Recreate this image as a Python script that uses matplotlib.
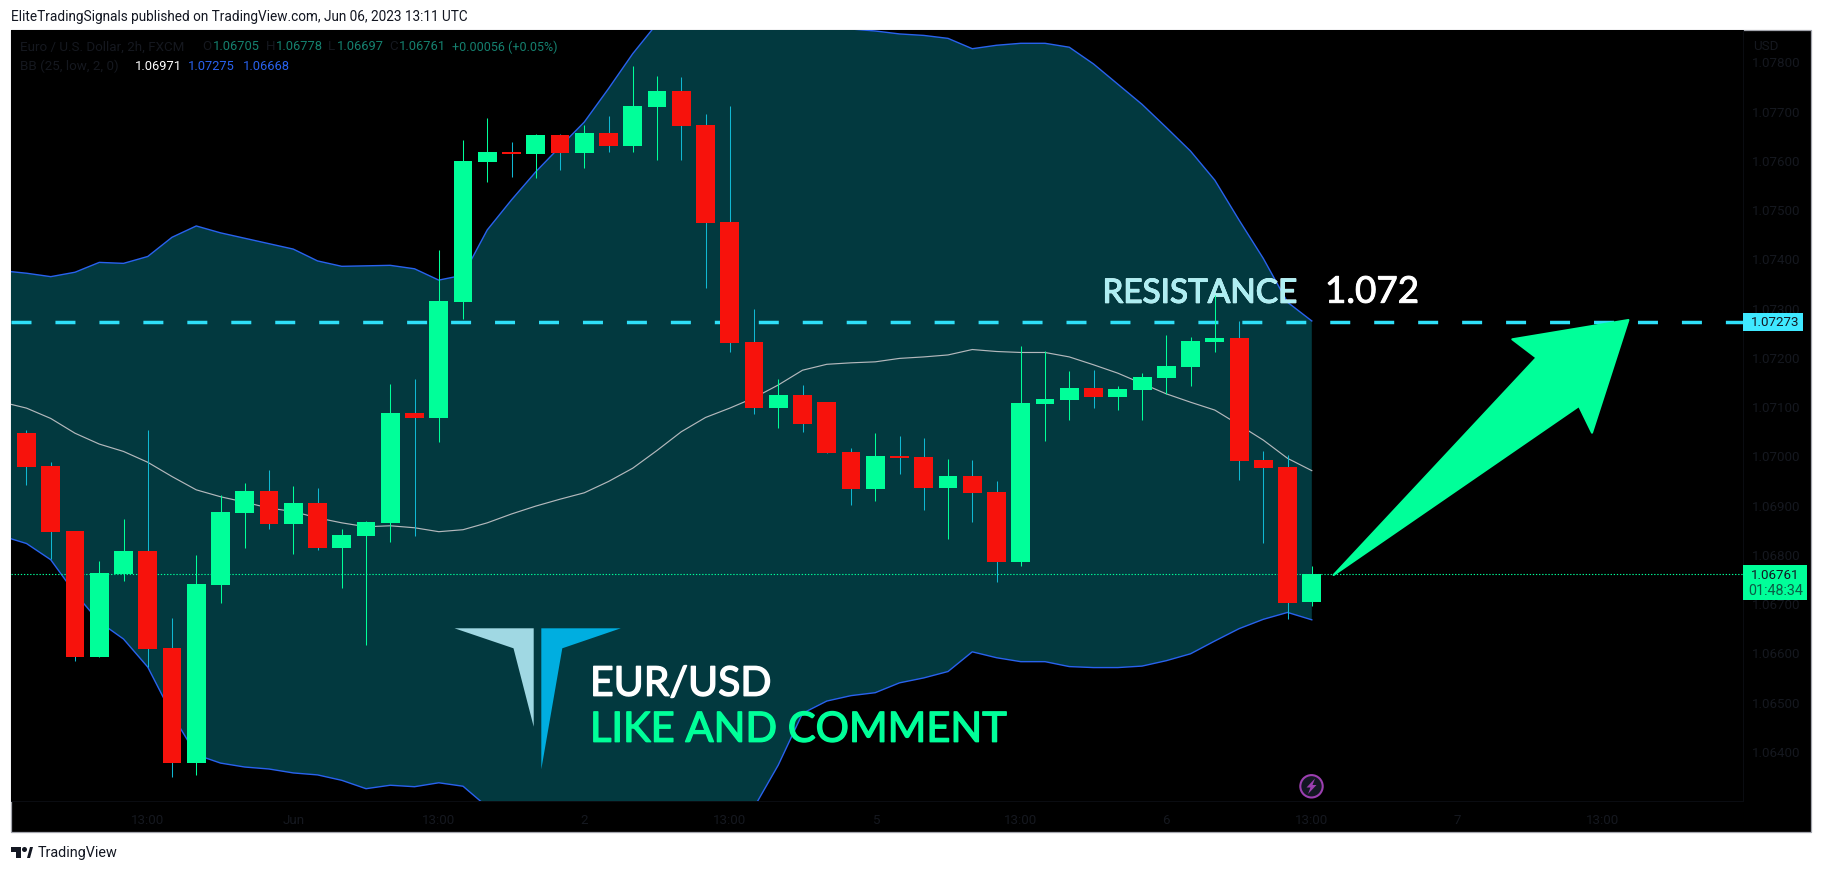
import matplotlib
matplotlib.use("Agg")
import matplotlib.pyplot as plt
import matplotlib.patheffects as pe
from matplotlib.patches import Polygon, Rectangle, Circle
from matplotlib.transforms import Affine2D

W, H = 1822, 872

opens = [1.07048,1.06980,1.06849,1.06593,1.06761,1.06808,1.06611,1.06378,1.06739,1.06885,
         1.06930,1.06863,1.06905,1.06814,1.06838,1.06865,1.07088,1.07078,1.07313,1.07598,
         1.07618,1.07614,1.07652,1.07616,1.07656,1.07630,1.07709,1.07742,1.07673,1.07476,
         1.07232,1.07098,1.07125,1.07110,1.07009,1.06934,1.07001,1.06999,1.06936,1.06960,
         1.06928,1.06786,1.07106,1.07115,1.07139,1.07121,1.07135,1.07159,1.07182,1.07232,
         1.07240,1.06993,1.06978,1.06705]
closes = [1.06978,1.06847,1.06593,1.06763,1.06808,1.06609,1.06378,1.06741,1.06887,1.06930,
          1.06863,1.06905,1.06814,1.06840,1.06867,1.07088,1.07078,1.07315,1.07600,1.07618,
          1.07614,1.07652,1.07616,1.07656,1.07630,1.07711,1.07742,1.07671,1.07474,1.07230,
          1.07098,1.07125,1.07066,1.07007,1.06934,1.07001,1.06997,1.06936,1.06960,1.06926,
          1.06786,1.07108,1.07117,1.07139,1.07121,1.07137,1.07161,1.07184,1.07234,1.07240,
          1.06991,1.06976,1.06702,1.06761]
highs = [1.07054,1.06988,1.06849,1.06788,1.06873,1.07054,1.06672,1.06800,1.06922,1.06946,
         1.06972,1.06940,1.06936,1.06853,1.06869,1.07147,1.07157,1.07419,1.07642,1.07687,
         1.07638,1.07654,1.07654,1.07673,1.07691,1.07792,1.07772,1.07770,1.07695,1.07711,
         1.07299,1.07157,1.07145,1.07110,1.07017,1.07048,1.07041,1.07037,1.06995,1.06993,
         1.06950,1.07224,1.07214,1.07173,1.07175,1.07143,1.07169,1.07246,1.07242,1.07328,
         1.07275,1.07011,1.07003,1.06778]
lows = [1.06942,1.06791,1.06585,1.06593,1.06747,1.06572,1.06349,1.06353,1.06702,1.06814,
        1.06853,1.06802,1.06810,1.06733,1.06617,1.06826,1.06838,1.07029,1.07279,1.07557,
        1.07567,1.07565,1.07581,1.07585,1.07618,1.07618,1.07602,1.07602,1.07342,1.07212,
        1.07086,1.07058,1.07050,1.07007,1.06901,1.06910,1.06964,1.06891,1.06832,1.06867,
        1.06745,1.06778,1.07031,1.07074,1.07098,1.07094,1.07074,1.07127,1.07143,1.07212,
        1.06952,1.06824,1.06670,1.06697]

# Bollinger bands start one bar before the first candle
bb_upper = [1.07377,1.07372,1.07365,1.07374,1.07394,1.07392,1.07406,1.07445,1.07468,1.07454,
            1.07443,1.07432,1.07421,1.07397,1.07386,1.07387,1.07388,1.07381,1.07358,1.07368,
            1.07460,1.07521,1.07578,1.07629,1.07679,1.07747,1.07818,1.07879,1.07918,1.07937,
            1.07947,1.07947,1.07937,1.07896,1.07876,1.07868,1.07864,1.07858,1.07855,1.07849,
            1.07828,1.07835,1.07839,1.07839,1.07831,1.07797,1.07756,1.07715,1.07668,1.07620,
            1.07561,1.07480,1.07402,1.07313,1.07275]
bb_middle = [1.07110,1.07098,1.07077,1.07047,1.07025,1.07010,1.06988,1.06959,1.06932,1.06918,
             1.06907,1.06895,1.06888,1.06875,1.06865,1.06857,1.06859,1.06855,1.06847,1.06851,
             1.06865,1.06883,1.06899,1.06913,1.06926,1.06949,1.06976,1.07012,1.07050,1.07079,
             1.07098,1.07119,1.07145,1.07175,1.07187,1.07190,1.07192,1.07199,1.07202,1.07206,
             1.07217,1.07213,1.07211,1.07211,1.07202,1.07186,1.07169,1.07148,1.07127,1.07110,
             1.07094,1.07064,1.07033,1.06996,1.06971]
bb_lower = [1.06838,1.06823,1.06790,1.06722,1.06664,1.06629,1.06572,1.06476,1.06394,1.06377,
            1.06369,1.06365,1.06357,1.06353,1.06342,1.06325,1.06332,1.06329,1.06337,1.06330,
            1.06288,1.06252,1.06211,1.06160,1.06110,1.06080,1.06069,1.06075,1.06100,1.06140,
            1.06201,1.06287,1.06373,1.06478,1.06503,1.06514,1.06520,1.06540,1.06550,1.06563,
            1.06603,1.06591,1.06583,1.06583,1.06573,1.06571,1.06571,1.06574,1.06585,1.06599,
            1.06625,1.06650,1.06669,1.06683,1.06668]

resistance = 1.07273
last_price = 1.06761
price_ticks = [1.064,1.065,1.066,1.067,1.068,1.069,1.070,1.071,1.072,1.073,1.074,1.075,1.076,1.077,1.078]
time_ticks = [5,11,17,23,29,35,41,47,53,59,65]
time_labels = ['13:00','Jun','13:00','2','13:00','5','13:00','6','13:00','7','13:00']

GREEN = '#00ff99'
RED = '#f7120c'
WICK_RED = '#10b8d2'
FILL = '#02393f'
BLUE = '#2962ee'
FAINT = '#15181f'
UI = 'Roboto'

fig = plt.figure(figsize=(W / 100, H / 100), dpi=100, facecolor='white')
px = Affine2D().scale(1 / W, -1 / H).translate(0, 1) + fig.transFigure

fig.add_artist(Rectangle((11, 30), 1800, 802, transform=px, facecolor='black',
                         edgecolor='#a3a5ad', linewidth=0.9, zorder=-1))

ax = fig.add_axes([11 / W, 1 - 801 / H, (1742.5 - 11) / W, (801 - 30) / H], facecolor='black')
ax.set_xlim(-0.639, 70.76)
ax.set_ylim(1.06300, 1.07866)
for s in ax.spines.values():
    s.set_visible(False)
for s in ('right', 'bottom'):
    ax.spines[s].set_visible(True)
    ax.spines[s].set_color('#0b0d12')
    ax.spines[s].set_linewidth(0.7)

ax.yaxis.tick_right()
ax.set_yticks(price_ticks, [f'{v:.5f}' for v in price_ticks])
ax.set_xticks(time_ticks, time_labels)
ax.tick_params(axis='y', length=0, pad=7, labelsize=9.6, labelcolor=FAINT)
ax.tick_params(axis='x', length=0, pad=9, labelsize=9.6, labelcolor=FAINT)
for lab in ax.get_xticklabels() + ax.get_yticklabels():
    lab.set_fontfamily(UI)

bar_x = list(range(len(opens)))
band_x = list(range(-1, len(opens)))

band = ax.fill_between(band_x, bb_lower, bb_upper, color=FILL, linewidth=0, zorder=1)
ax.plot(band_x, bb_upper, color=BLUE, lw=1.0, zorder=2)
ax.plot(band_x, bb_lower, color=BLUE, lw=1.0, zorder=2)
ax.plot(band_x, bb_middle, color='#b4b8bc', lw=0.85, zorder=2)

ax.plot([ax.get_xlim()[0], ax.get_xlim()[1]], [resistance, resistance], color='#2fdff8', lw=2.5,
        dashes=(5.76, 6.9), dash_capstyle='butt', zorder=2.2)
ax.axhline(last_price, color=GREEN, lw=0.8, dashes=(1.2, 1.6), zorder=2.2)

# Chart annotations sit under the candles
def heavy(color, width=0.7):
    return [pe.withStroke(linewidth=width, foreground=color)]

ax.text(1102.4, 302.7, 'RESISTANCE', transform=px, color='white', fontsize=24, family='Lato',
        va='baseline', ha='left', zorder=2.4, path_effects=heavy('white'))
tint = ax.text(1102.4, 302.7, 'RESISTANCE', transform=px, color='#aeeef2', fontsize=24,
               family='Lato', va='baseline', ha='left', zorder=2.5, path_effects=heavy('#aeeef2'))
tint.set_clip_path(band.get_paths()[0], ax.transData)
ax.text(1325, 302.7, '1.072', transform=px, color='white', fontsize=26.5, family='Lato',
        va='baseline', ha='left', zorder=2.4, path_effects=heavy('white'))

colors = [GREEN if c >= o else RED for o, c in zip(opens, closes)]
wick_colors = [GREEN if c >= o else WICK_RED for o, c in zip(opens, closes)]
ax.vlines(bar_x, lows, highs, colors=wick_colors, lw=0.75, zorder=3)
ax.bar(bar_x, [abs(c - o) for o, c in zip(opens, closes)],
       bottom=[min(o, c) for o, c in zip(opens, closes)],
       width=0.78, color=colors, linewidth=0, zorder=4)

def poly(points, color, **kw):
    ax.add_patch(Polygon(points, closed=True, transform=px, facecolor=color, clip_on=False, **kw))

poly([(454.5, 628.3), (533.7, 628.3), (533.7, 726.7), (513.5, 648.3)], '#a0d8e3', edgecolor='none', zorder=5)
poly([(541.3, 628.3), (620.8, 628.3), (562.3, 648.3), (541.3, 769.3)], '#00aee0', edgecolor='none', zorder=5)
ax.text(590, 695.7, 'EUR/USD', transform=px, color='white', fontsize=29.5, family='Lato',
        va='baseline', ha='left', zorder=5, path_effects=heavy('white', 1.0))
ax.text(590, 741.7, 'LIKE AND COMMENT', transform=px, color=GREEN, fontsize=30, family='Lato',
        va='baseline', ha='left', zorder=5, path_effects=heavy(GREEN, 1.0))

poly([(1628.4, 320), (1512.3, 339.3), (1536.5, 357.7), (1333.6, 575), (1579, 406), (1592, 432.7)],
     GREEN, edgecolor=GREEN, linewidth=1.5, joinstyle='round', zorder=5)

ax.add_patch(Circle((1311.5, 786.3), 11.2, transform=px, facecolor='#131722', edgecolor='#9c3fb0',
                    linewidth=1.5, clip_on=False, zorder=5))
poly([(1315, 778.5), (1306.5, 787.5), (1310.5, 787.5), (1308, 794), (1316.5, 785), (1312.5, 785)],
     '#9c3fb0', edgecolor='none', zorder=6)

# Price labels on the axis
ax.add_patch(Rectangle((1742.5, 312.7), 60, 18, transform=px, facecolor='#3fe8ff', edgecolor='none',
                       clip_on=False, zorder=6))
ax.text(1775, 322, '1.07273', transform=px, color='#131722', fontsize=9.6, family=UI,
        ha='center', va='center', zorder=7)
ax.add_patch(Rectangle((1742.5, 565), 64.3, 34.7, transform=px, facecolor=GREEN, edgecolor='none',
                       clip_on=False, zorder=6))
ax.text(1775, 575.3, '1.06761', transform=px, color='#131722', fontsize=9.6, family=UI,
        ha='center', va='center', zorder=7)
ax.text(1776, 591.3, '01:48:34', transform=px, color='#0b5d46', fontsize=10.4, family=UI,
        ha='center', va='center', zorder=7)
ax.text(1753.6, 46, 'USD', transform=px, color=FAINT, fontsize=9.6, family=UI, ha='left', va='center', zorder=7)

# Legend lines
def label(x, y, s, color, size=9.6):
    ax.text(x, y, s, transform=px, color=color, fontsize=size, family=UI, ha='left', va='center', zorder=7)

TEAL = '#15806f'
label(20, 47, 'Euro / U.S. Dollar, 2h, FXCM', FAINT)
for x, s in [(202, 'O'), (265.6, 'H'), (328.3, 'L'), (389.7, 'C')]:
    label(x, 47, s, FAINT)
for x, s in [(212.5, '1.06705'), (275.7, '1.06778'), (336.7, '1.06697'), (398.6, '1.06761')]:
    label(x, 47, s, TEAL, 9.3)
label(451.6, 47, '+0.00056 (+0.05%)', TEAL, 9.0)
label(20, 66, 'BB (25, low, 2, 0)', FAINT)
label(134.7, 66, '1.06971', 'white', 9.3)
label(188, 66, '1.07275', BLUE, 9.3)
label(242.4, 66, '1.06668', BLUE, 9.3)

# Header and footer
fig.text(11 / W, 1 - 17 / H, 'EliteTradingSignals published on TradingView.com, Jun 06, 2023 13:11 UTC',
         color='#131722', fontsize=9.85, family=UI, ha='left', va='center')
fig.text(38 / W, 1 - 852.7 / H, 'TradingView', color='#131722', fontsize=10.4, family=UI, ha='left', va='center')
for pts in ([(11, 847), (21, 847), (21, 858), (16, 858), (16, 852), (11, 852)],
            [(27, 858), (30, 847), (33, 847), (30, 858)]):
    fig.add_artist(Polygon(pts, closed=True, transform=px, facecolor='#131722', edgecolor='none'))
fig.add_artist(Circle((24.5, 849.5), 2.5, transform=px, facecolor='#131722', edgecolor='none'))

fig.savefig('out.png', dpi=100, facecolor='white')
